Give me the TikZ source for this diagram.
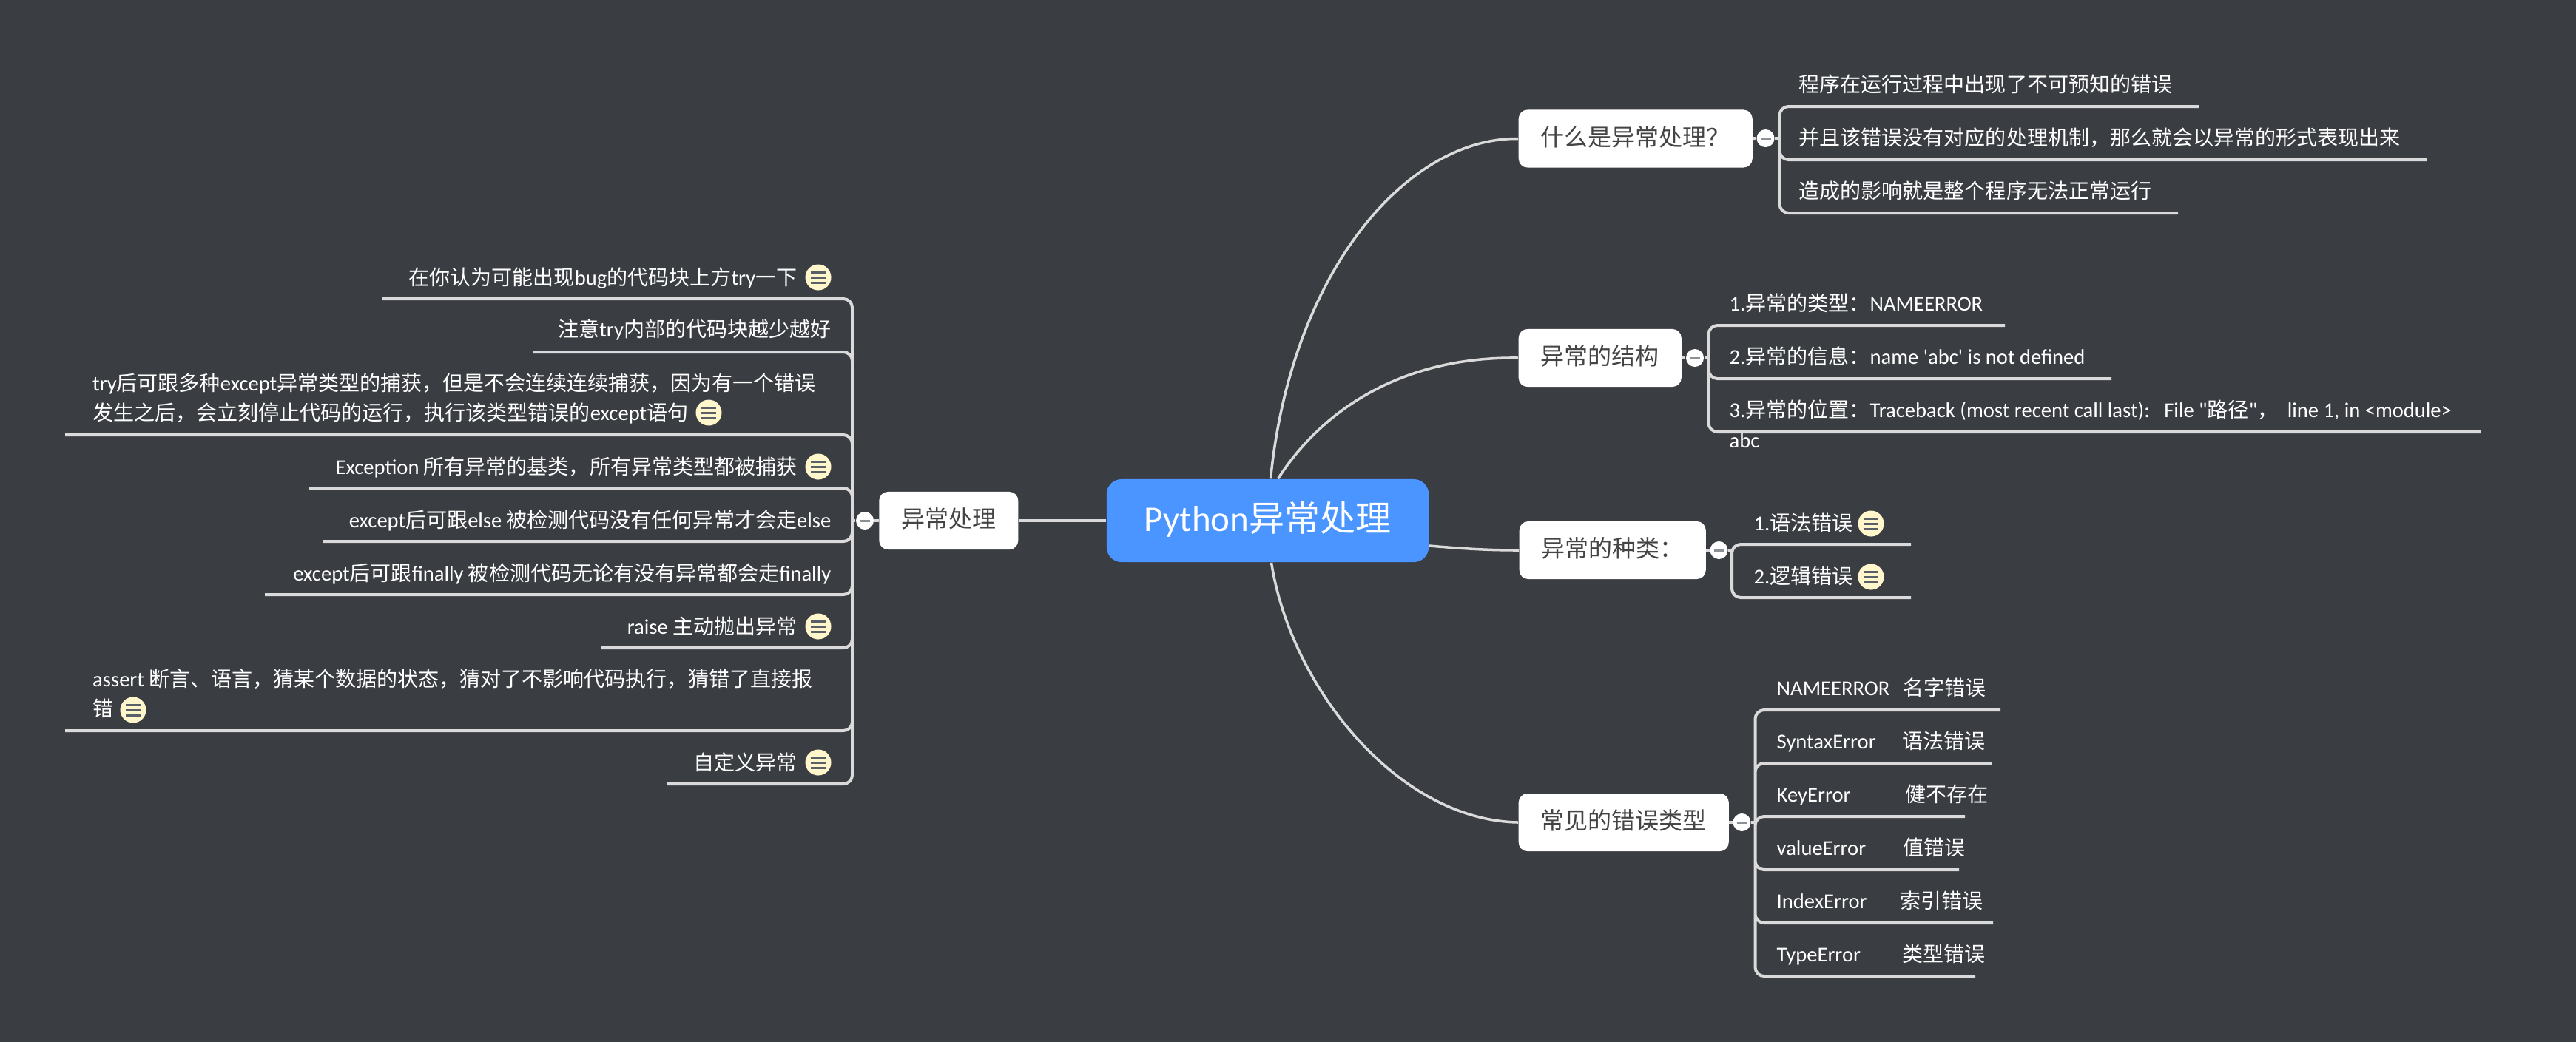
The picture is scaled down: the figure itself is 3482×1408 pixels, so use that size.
\documentclass[tikz,border=0pt]{standalone}
\usepackage{fontspec}
\usepackage{xcolor}
\usetikzlibrary{calc}

\newfontfamily\cnfont{Noto Sans CJK SC}
\newfontfamily\enfont[Scale=1.02]{Carlito}
\newcommand{\en}[1]{{\enfont #1}}

\definecolor{slatebg}{HTML}{3A3D42}
\definecolor{rootblue}{HTML}{4A95FF}
\definecolor{wirecol}{HTML}{DADADA}
\definecolor{boxtext}{HTML}{444444}
\definecolor{notecol}{HTML}{FFF6CC}
\definecolor{barcol}{HTML}{5A6068}

\tikzset{
  rootbox/.style={draw=none, fill=rootblue, rounded corners=0.2cm, text=white, minimum width=4.35cm, minimum height=1.12cm, text height=0.36cm, text depth=0.08cm, font=\cnfont\fontsize{13.66pt}{16pt}\selectfont},
  secbox/.style={draw=none, fill=white, rounded corners=0.12cm, text=boxtext, inner xsep=0.3cm, inner ysep=0pt, minimum height=0.78cm, text height=0.27cm, text depth=0.08cm, font=\cnfont\fontsize{9.1pt}{12pt}\selectfont},
  leaftext/.style={text=white, inner sep=0pt, text height=0.2cm, text depth=0cm, font=\cnfont\fontsize{7.97pt}{11.38pt}\selectfont},
  twolines/.style={leaftext, align=left, text height=0.6cm},
  mainwire/.style={draw=wirecol, line width=0.035cm},
  wire/.style={draw=wirecol, line width=0.04cm, rounded corners=0.12cm},
  foldbtn/.style={circle, fill=white, inner sep=0pt, minimum size=0.24cm,
    path picture={\draw[barcol!70, line width=0.03cm] ($(path picture bounding box.center)+(-7,0)$) -- ++(14,0);}},
  notebtn/.style={circle, fill=notecol, inner sep=0pt, minimum size=0.35cm,
    path picture={\draw[barcol, line width=0.03cm]
      ($(path picture bounding box.center)+(-10,-7)$) -- ++(20,0)
      ($(path picture bounding box.center)+(-10,0)$) -- ++(20,0)
      ($(path picture bounding box.center)+(-10,7)$) -- ++(20,0);}},
}

\begin{document}
\begin{tikzpicture}[x=0.01cm, y=-0.01cm]

\useasboundingbox (0,0) rectangle (3482,1408);
\fill[slatebg] (-5,-5) rectangle (3487,1413);

% Root and the five topics
\node[rootbox] (root) at (1713.5,704) {\en{Python}异常处理};
\node[secbox, anchor=west] (whatis) at (2052,187.5) {什么是异常处理？};
\node[secbox, anchor=west] (struct) at (2052,484) {异常的结构};
\node[secbox, anchor=west] (kinds) at (2053,744) {异常的种类：};
\node[secbox, anchor=west] (common) at (2052,1112) {常见的错误类型};
\node[secbox, anchor=east] (handle) at (1377,704) {异常处理};

% Curves out of the root
\draw[mainwire] ($(root.north)+(4,0)$) .. controls (1745,370) and (1900,186) .. (whatis.west);
\draw[mainwire] ($(root.north)+(14,0)$) .. controls (1790,550) and (1900,482) .. (struct.west);
\draw[mainwire] (root.east |- 0,738) .. controls (1980,742) and (2010,744) .. (kinds.west);
\draw[mainwire] ($(root.south)+(5,0)$) .. controls (1745,930) and (1890,1109) .. (common.west);
\draw[mainwire] (root.west) -- (handle.east);

% Collapse buttons
\node[foldbtn] (foldwhat) at (2386.5,187) {};
\node[foldbtn] (foldstruct) at (2291,484) {};
\node[foldbtn] (foldkinds) at (2323.5,744) {};
\node[foldbtn] (foldcommon) at (2354.5,1112) {};
\node[foldbtn] (foldhandle) at (1169,704) {};

\draw[wire] (whatis) -- (foldwhat);
\draw[wire] (struct) -- (foldstruct);
\draw[wire] (kinds) -- (foldkinds);
\draw[wire] (common) -- (foldcommon);
\draw[wire] (handle) -- (foldhandle);

% First topic
\coordinate (whatjoin) at (2405.5,187);
\coordinate (whatend1) at (2972,144);
\coordinate (whatend2) at (3280,216);
\coordinate (whatend3) at (2944,288);
\node[leaftext, anchor=west] (what1) at (2431,114) {程序在运行过程中出现了不可预知的错误};
\node[leaftext, anchor=west] (what2) at (2431,186) {并且该错误没有对应的处理机制，那么就会以异常的形式表现出来};
\node[leaftext, anchor=west] (what3) at (2431,258) {造成的影响就是整个程序无法正常运行};
\draw[wire] (foldwhat) -- (whatjoin);
\draw[wire] (whatjoin) |- (whatend1) (whatjoin) |- (whatend2) (whatjoin) |- (whatend3);

% Second topic
\coordinate (structjoin) at (2309.5,484);
\coordinate (structend1) at (2710,440);
\coordinate (structend2) at (2854,512);
\coordinate (structend3) at (3353,584);
\node[leaftext, anchor=west] (struct1) at (2337,410) {\en{1.}异常的类型：\en{NAMEERROR}};
\node[leaftext, anchor=west] (struct2) at (2337,482) {\en{2.}异常的信息：\en{name 'abc' is not defined}};
\node[leaftext, anchor=west] (struct3) at (2337,554) {\en{3.}异常的位置：\en{Traceback (most recent call last):~~~File "}路径\en{"}，~~\en{line 1, in <module>}};
\node[leaftext, anchor=west] (struct4) at (2337,595) {\en{abc}};
\draw[wire] (foldstruct) -- (structjoin);
\draw[wire] (structjoin) |- (structend1) (structjoin) |- (structend2) (structjoin) |- (structend3);

% Third topic
\coordinate (kindsjoin) at (2341,744);
\coordinate (kindsend1) at (2583,736);
\coordinate (kindsend2) at (2583,808);
\node[leaftext, anchor=west] (kinds1) at (2370,707) {\en{1.}语法错误};
\node[leaftext, anchor=west] (kinds2) at (2370,779) {\en{2.}逻辑错误};
\node[notebtn] (kindsnote1) at (2529,708) {};
\node[notebtn] (kindsnote2) at (2529,780) {};
\draw[wire] (foldkinds) -- (kindsjoin);
\draw[wire] (kindsjoin) |- (kindsend1) (kindsjoin) |- (kindsend2);

% Fourth topic
\coordinate (commonjoin) at (2372.5,1112);
\coordinate (commonend1) at (2704,960);
\coordinate (commonend2) at (2692,1032);
\coordinate (commonend3) at (2656,1104);
\coordinate (commonend4) at (2648,1176);
\coordinate (commonend5) at (2694,1248);
\coordinate (commonend6) at (2670,1320);
\node[leaftext, anchor=west] (common1) at (2401,930) {\makebox[1.71cm][l]{\en{NAMEERROR}}名字错误};
\node[leaftext, anchor=west] (common2) at (2401,1002) {\makebox[1.70cm][l]{\en{SyntaxError}}语法错误};
\node[leaftext, anchor=west] (common3) at (2401,1074) {\makebox[1.74cm][l]{\en{KeyError}}健不存在};
\node[leaftext, anchor=west] (common4) at (2401,1146) {\makebox[1.71cm][l]{\en{valueError}}值错误};
\node[leaftext, anchor=west] (common5) at (2401,1218) {\makebox[1.67cm][l]{\en{IndexError}}索引错误};
\node[leaftext, anchor=west] (common6) at (2401,1290) {\makebox[1.70cm][l]{\en{TypeError}}类型错误};
\draw[wire] (foldcommon) -- (commonjoin);
\draw[wire] (commonjoin) |- (commonend1) (commonjoin) |- (commonend2) (commonjoin) |- (commonend3)
  (commonjoin) |- (commonend4) (commonjoin) |- (commonend5) (commonjoin) |- (commonend6);

% Left topic
\coordinate (handlejoin) at (1152,704);
\coordinate (handleend1) at (516,404);
\coordinate (handleend2) at (720,476);
\coordinate (handleend3) at (88,588);
\coordinate (handleend4) at (418,660);
\coordinate (handleend5) at (436,732);
\coordinate (handleend6) at (358,804);
\coordinate (handleend7) at (812,876);
\coordinate (handleend8) at (88,988);
\coordinate (handleend9) at (902,1060);
\node[leaftext, anchor=east] (handle1) at (1078,375) {在你认为可能出现\en{bug}的代码块上方\en{try}一下};
\node[leaftext, anchor=east] (handle2) at (1124,445) {注意\en{try}内部的代码块越少越好};
\node[twolines, anchor=west] (handle3) at (124.5,538) {\en{try}后可跟多种\en{except}异常类型的捕获，但是不会连续连续捕获，因为有一个错误\\发生之后，会立刻停止代码的运行，执行该类型错误的\en{except}语句};
\node[leaftext, anchor=east] (handle4) at (1078,631) {\en{Exception} 所有异常的基类，所有异常类型都被捕获};
\node[leaftext, anchor=east] (handle5) at (1124,703) {\en{except}后可跟\en{else} 被检测代码没有任何异常才会走\en{else}};
\node[leaftext, anchor=east] (handle6) at (1124,775) {\en{except}后可跟\en{finally} 被检测代码无论有没有异常都会走\en{finally}};
\node[leaftext, anchor=east] (handle7) at (1078,847) {\en{raise} 主动抛出异常};
\node[twolines, anchor=west] (handle8) at (124.5,938) {\en{assert} 断言、语言，猜某个数据的状态，猜对了不影响代码执行，猜错了直接报\\错};
\node[leaftext, anchor=east] (handle9) at (1078,1031) {自定义异常};
\node[notebtn] (handlenote1) at (1106,375) {};
\node[notebtn] (handlenote3) at (958,558) {};
\node[notebtn] (handlenote4) at (1106,631) {};
\node[notebtn] (handlenote7) at (1106,847) {};
\node[notebtn] (handlenote8) at (180,960) {};
\node[notebtn] (handlenote9) at (1106,1031) {};
\draw[wire] (foldhandle) -- (handlejoin);
\draw[wire] (handlejoin) |- (handleend1) (handlejoin) |- (handleend2) (handlejoin) |- (handleend3)
  (handlejoin) |- (handleend4) (handlejoin) |- (handleend5) (handlejoin) |- (handleend6)
  (handlejoin) |- (handleend7) (handlejoin) |- (handleend8) (handlejoin) |- (handleend9);

\end{tikzpicture}
\end{document}
